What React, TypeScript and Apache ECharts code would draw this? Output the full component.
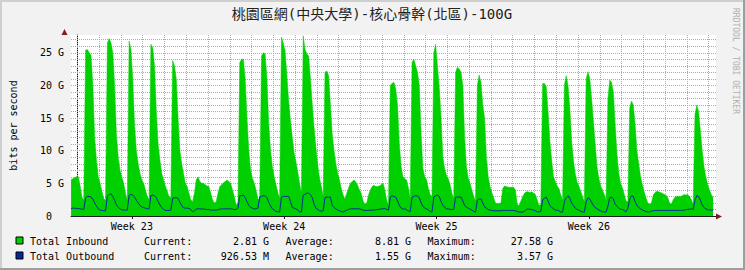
import { useEffect, useRef } from "react";
import * as echarts from "echarts";

const TITLE = "桃園區網(中央大學)-核心骨幹(北區)-100G";
const Y_TITLE = "bits per second";
const WATERMARK = "RRDTOOL / TOBI OETIKER";

// x axis in days; day grid lines sit on integers
const X_MIN = -0.2955;
const X_MAX = 29.341;
const Y_MAX = 27.72;

const WEEK_LABELS = ["Week 23", "Week 24", "Week 25", "Week 26"];
const WEEK_CENTERS = [2.5, 9.5, 16.5, 23.5];
const WEEK_LINES = [6, 13, 20, 27];
const DAY_LINES = [0, 1, 2, 3, 4, 5, 7, 8, 9, 10, 11, 12, 14, 15, 16, 17, 18, 19, 21, 22, 23, 24, 25, 26, 28, 29];
const Y_MAJOR = [5, 10, 15, 20, 25];
const Y_MINOR = [1, 2, 3, 4, 6, 7, 8, 9, 11, 12, 13, 14, 16, 17, 18, 19, 21, 22, 23, 24, 26, 27];
const Y_LABELS = [0, 5, 10, 15, 20, 25];

// samples every 2 hours (odd hours), first sample at day -1, 17:00
const SERIES_START = -1 + 17 / 24;
const SERIES_STEP = 2 / 24;

// Total Inbound, G bits/s
const INBOUND = [
  5.6, 5.7, 5.9, 6.0,
  6.0, 4.6, 2.9, 2.4, 25.4, 25.5, 25.0, 24.6, 20.0, 12.0, 8.5, 6.0,
  5.0, 3.8, 2.7, 2.3, 26.5, 27.2, 26.5, 25.0, 20.0, 12.5, 9.0, 7.0,
  6.0, 5.0, 3.5, 2.4, 26.8, 25.5, 21.0, 14.0, 10.0, 8.0, 6.5, 5.5,
  5.0, 4.0, 3.0, 2.5, 26.3, 25.8, 23.0, 16.0, 11.0, 8.5, 6.5, 5.5,
  4.6, 3.8, 3.0, 2.8, 23.8, 23.0, 21.0, 15.0, 10.0, 8.0, 6.5, 5.0,
  4.5, 3.5, 2.5, 2.2, 3.5, 5.5, 6.0, 5.3, 5.0, 5.0, 4.8, 4.6,
  4.5, 3.5, 2.5, 2.0, 2.2, 3.5, 4.5, 4.8, 5.1, 5.3, 5.5, 5.3,
  5.0, 4.0, 3.0, 1.7, 2.0, 23.5, 24.0, 24.0, 21.0, 15.0, 10.0, 7.0,
  5.8, 5.0, 4.0, 2.6, 2.5, 24.5, 25.0, 24.8, 21.0, 14.0, 10.0, 7.5,
  6.0, 4.8, 3.6, 2.6, 27.4, 26.5, 25.3, 21.5, 17.5, 14.5, 12.0, 9.6,
  8.3, 6.7, 5.0, 3.5, 27.6, 25.5, 24.8, 24.5, 21.0, 17.0, 13.5, 10.5,
  7.8, 5.8, 4.5, 3.0, 22.0, 22.2, 21.5, 17.0, 12.5, 10.0, 8.0, 6.5,
  5.5, 4.2, 3.2, 2.6, 3.5, 4.3, 5.0, 5.3, 5.5, 5.2, 4.7, 4.0,
  3.5, 2.3, 1.8, 2.0, 3.2, 4.0, 4.5, 4.7, 4.5, 4.5, 4.6, 4.8,
  5.0, 4.0, 2.5, 1.5, 20.0, 20.3, 20.5, 19.5, 17.0, 11.0, 7.5, 6.0,
  5.7, 5.5, 4.3, 2.7, 23.5, 24.0, 23.0, 22.0, 20.0, 12.5, 7.2, 6.0,
  5.6, 4.2, 3.3, 3.0, 25.0, 26.3, 23.0, 19.7, 15.0, 9.0, 7.2, 6.2,
  5.7, 4.8, 3.5, 2.6, 22.0, 22.8, 22.5, 22.0, 20.0, 12.0, 7.5, 5.8,
  5.0, 4.0, 3.0, 2.3, 20.0, 21.6, 20.5, 17.0, 15.0, 9.0, 6.0, 4.5,
  3.6, 2.8, 2.0, 1.9, 1.9, 2.0, 4.2, 4.6, 4.5, 4.4, 4.4, 4.4,
  4.4, 4.0, 1.8, 1.6, 2.3, 3.0, 3.5, 3.7, 3.7, 3.6, 3.7, 3.5,
  3.3, 2.5, 1.6, 1.8, 20.3, 20.3, 19.8, 16.0, 11.5, 8.5, 6.0, 5.3,
  4.6, 4.2, 3.2, 2.4, 20.0, 21.5, 20.0, 16.5, 11.5, 8.5, 6.5, 5.2,
  4.6, 3.8, 3.0, 2.2, 21.0, 22.1, 21.0, 18.0, 14.5, 11.0, 7.5, 5.8,
  4.6, 4.0, 3.3, 2.4, 18.0, 20.8, 20.5, 19.0, 14.0, 9.5, 6.5, 5.0,
  4.3, 3.3, 2.3, 2.2, 16.5, 17.6, 17.0, 14.0, 10.0, 8.0, 6.0, 4.8,
  3.7, 2.8, 2.0, 1.8, 2.0, 3.2, 3.6, 3.8, 3.7, 3.6, 3.5, 3.3,
  3.2, 2.8, 2.0, 1.8, 2.5, 2.9, 3.0, 3.0, 3.0, 3.1, 3.3, 3.2,
  3.3, 3.0, 2.5, 1.8, 15.5, 17.0, 16.0, 13.0, 10.0, 7.5, 6.0, 4.8,
  4.0, 3.3, 2.81,
];

// Total Outbound, G bits/s
const OUTBOUND = [
  1.15, 1.2, 1.2, 1.15,
  1.15, 1.1, 1.05, 1.0, 2.8, 3.0, 3.0, 2.9, 2.6, 2.0, 1.5, 1.1,
  0.9, 0.85, 0.8, 0.8, 3.0, 3.3, 3.4, 3.0, 2.4, 1.7, 1.35, 1.1,
  0.95, 0.9, 0.9, 0.9, 3.2, 3.3, 3.2, 2.9, 2.4, 2.0, 1.6, 1.4,
  1.3, 1.2, 1.1, 1.1, 3.1, 3.2, 3.1, 2.8, 2.2, 1.7, 1.3, 1.0,
  0.85, 0.85, 0.85, 0.9, 2.7, 2.8, 2.8, 2.7, 2.1, 1.6, 1.25, 1.2,
  1.2, 1.15, 1.0, 0.65, 0.8, 1.05, 1.1, 1.1, 1.05, 1.1, 1.0, 1.0,
  1.0, 0.9, 0.9, 0.9, 0.9, 0.95, 1.05, 1.1, 1.1, 1.1, 1.1, 1.1,
  1.1, 1.05, 1.0, 1.0, 1.2, 3.1, 3.1, 3.2, 2.8, 2.2, 1.6, 1.3,
  1.2, 1.1, 1.1, 1.2, 2.9, 3.0, 3.1, 3.1, 2.8, 2.1, 1.5, 1.1,
  0.9, 0.7, 0.65, 0.6, 2.9, 3.0, 3.0, 3.0, 3.0, 2.2, 1.3, 1.2,
  1.1, 0.9, 0.65, 0.6, 3.2, 3.3, 3.5, 3.5, 3.3, 2.8, 1.8, 1.2,
  1.0, 0.8, 0.75, 0.8, 2.8, 2.9, 2.9, 2.9, 1.6, 1.3, 1.1, 0.9,
  0.8, 0.7, 0.6, 0.75, 0.9, 1.0, 1.1, 1.1, 1.1, 1.1, 1.1, 1.1,
  1.0, 0.9, 0.85, 0.85, 0.85, 0.9, 0.9, 0.9, 0.95, 1.0, 1.0, 1.1,
  1.1, 1.15, 1.0, 0.9, 2.9, 3.1, 3.0, 2.9, 2.3, 1.6, 1.2, 1.05,
  1.1, 0.95, 0.75, 0.7, 2.9, 3.0, 3.1, 3.05, 2.8, 2.0, 1.5, 1.2,
  1.1, 0.9, 0.7, 0.6, 2.9, 3.1, 3.2, 3.0, 2.2, 1.6, 1.3, 1.1,
  1.1, 1.0, 1.0, 1.0, 2.9, 2.9, 2.9, 2.9, 2.3, 1.6, 1.35, 1.2,
  1.05, 0.9, 0.7, 0.6, 2.4, 2.6, 2.6, 2.0, 1.4, 1.2, 1.0, 0.9,
  0.85, 0.8, 0.8, 0.8, 0.8, 0.8, 0.85, 0.85, 0.85, 0.85, 0.85, 0.85,
  0.85, 0.8, 0.7, 0.6, 0.6, 0.6, 0.75, 1.0, 1.1, 1.0, 1.0, 0.9,
  0.8, 0.65, 0.6, 0.7, 2.5, 2.7, 2.9, 2.3, 1.6, 1.3, 1.1, 0.9,
  0.9, 0.8, 0.6, 0.6, 2.2, 2.8, 3.1, 2.7, 2.0, 1.6, 1.2, 1.0,
  0.9, 0.75, 0.6, 0.6, 2.2, 2.8, 2.6, 2.1, 1.6, 1.3, 1.1, 0.9,
  0.8, 0.65, 0.6, 0.6, 1.5, 2.8, 2.9, 2.6, 1.8, 1.5, 1.2, 1.05,
  1.0, 0.85, 0.65, 1.2, 2.6, 3.1, 3.0, 2.2, 1.6, 1.3, 1.1, 0.9,
  0.8, 0.7, 0.6, 0.65, 0.75, 0.8, 0.85, 0.85, 0.85, 0.85, 0.85, 0.85,
  0.85, 0.85, 0.85, 0.85, 0.85, 0.85, 0.85, 0.85, 0.85, 0.85, 0.9, 1.0,
  1.0, 1.05, 1.1, 1.0, 2.4, 3.1, 3.0, 2.4, 1.7, 1.3, 1.1, 0.95,
  0.9, 0.9, 0.93,
];

const LEGEND_NAMES = ["Total Inbound", "Total Outbound"];
const LEGEND_COLORS = ["#00CF00", "#002A97"];
const STAT_LABELS = ["Current:", "Average:", "Maximum:"];
const INBOUND_STATS = ["2.81 G", "8.81 G", "27.58 G"];
const OUTBOUND_STATS = ["926.53 M", "1.55 G", "3.57 G"];

const MONO = "'DejaVu Sans Mono', monospace";

function toPoints(values: number[]) {
  return values.map((v, i) => [SERIES_START + i * SERIES_STEP, v]);
}

export default function App() {
  const ref = useRef<HTMLDivElement>(null);

  useEffect(() => {
    if (!ref.current) return;
    const chart = echarts.init(ref.current, undefined, { renderer: "svg" });

    const gridColor = "#ABABAB";
    const majorColor = "#EB9595";
    const markData: any[] = [];
    DAY_LINES.forEach((d) => markData.push({ xAxis: d, lineStyle: { color: gridColor } }));
    Y_MINOR.forEach((v) => markData.push({ yAxis: v, lineStyle: { color: gridColor } }));
    WEEK_LINES.forEach((d) => markData.push({ xAxis: d, lineStyle: { color: majorColor } }));
    Y_MAJOR.forEach((v) => markData.push({ yAxis: v, lineStyle: { color: majorColor } }));

    const statX = [
      [144, 269],
      [285.5, 411],
      [427.5, 553],
    ];
    const rowsY = [241, 256];
    const legendGraphics: any[] = [];
    [INBOUND_STATS, OUTBOUND_STATS].forEach((stats, r) => {
      const y = rowsY[r];
      legendGraphics.push({
        type: "rect",
        shape: { x: 16, y: y - 4, width: 7, height: 7 },
        style: { fill: LEGEND_COLORS[r], stroke: "#000", lineWidth: 1 },
        silent: true,
      });
      legendGraphics.push({
        type: "text",
        x: 30,
        y,
        style: { text: LEGEND_NAMES[r], font: `10px ${MONO}`, fill: "#000", verticalAlign: "middle", align: "left" },
        silent: true,
      });
      stats.forEach((s, i) => {
        legendGraphics.push({
          type: "text",
          x: statX[i][0],
          y,
          style: { text: STAT_LABELS[i], font: `10px ${MONO}`, fill: "#000", verticalAlign: "middle", align: "left" },
          silent: true,
        });
        legendGraphics.push({
          type: "text",
          x: statX[i][1],
          y,
          style: { text: s, font: `10px ${MONO}`, fill: "#000", verticalAlign: "middle", align: "right" },
          silent: true,
        });
      });
    });

    chart.setOption({
      animation: false,
      backgroundColor: "#F2F2F2",
      grid: {
        left: 64,
        top: 35,
        width: 652,
        height: 181,
        show: true,
        backgroundColor: "#FFFFFF",
        borderWidth: 0,
      },
      xAxis: {
        type: "value",
        min: X_MIN,
        max: X_MAX,
        axisLine: { show: true, onZero: false, lineStyle: { color: "#1F1F1F", width: 1 } },
        axisTick: { show: true, customValues: WEEK_CENTERS, length: 3, lineStyle: { color: "#1F1F1F" } },
        axisLabel: {
          customValues: WEEK_CENTERS,
          formatter: (v: number) => WEEK_LABELS[WEEK_CENTERS.indexOf(v)] ?? "",
          fontFamily: MONO,
          fontSize: 10,
          color: "#000",
          margin: 5,
        },
        splitLine: { show: false },
      },
      yAxis: {
        type: "value",
        min: 0,
        max: Y_MAX,
        interval: 5,
        axisLine: { show: true, lineStyle: { color: "#1F1F1F", width: 1 } },
        axisTick: { show: false },
        axisLabel: {
          showMaxLabel: false,
          formatter: (v: number) => (Y_LABELS.includes(v) ? (v === 0 ? "{z|0}" : `${v} G`) : ""),
          fontFamily: MONO,
          fontSize: 10,
          color: "#000",
          margin: 7,
          rich: { z: { fontFamily: MONO, fontSize: 10, color: "#000", padding: [0, 12, 0, 0] } },
        },
        splitLine: { show: false },
        name: Y_TITLE,
        nameLocation: "middle",
        nameGap: 53,
        nameRotate: 90,
        nameTextStyle: { fontFamily: MONO, fontSize: 10, color: "#000" },
      },
      series: [
        {
          type: "line",
          name: "grid",
          data: [],
          z: 1,
          silent: true,
          markLine: {
            z: 1,
            silent: true,
            symbol: ["none", "none"],
            label: { show: false },
            emphasis: { disabled: true },
            lineStyle: { width: 1, type: [1, 1] },
            data: markData,
          },
        },
        {
          type: "line",
          name: LEGEND_NAMES[0],
          data: toPoints(INBOUND),
          symbol: "none",
          z: 2,
          silent: true,
          lineStyle: { color: LEGEND_COLORS[0], width: 0.5 },
          itemStyle: { color: LEGEND_COLORS[0] },
          areaStyle: { color: LEGEND_COLORS[0], opacity: 1 },
        },
        {
          type: "line",
          name: LEGEND_NAMES[1],
          data: toPoints(OUTBOUND),
          symbol: "none",
          z: 3,
          silent: true,
          lineStyle: { color: LEGEND_COLORS[1], width: 1 },
          itemStyle: { color: LEGEND_COLORS[1] },
        },
      ],
      graphic: [
        {
          type: "text",
          x: 372,
          y: 14,
          style: {
            text: TITLE,
            font: `14px 'DejaVu Sans Mono', 'Noto Sans CJK TC', sans-serif`,
            fill: "#222",
            align: "center",
            verticalAlign: "middle",
          },
          silent: true,
        },
        {
          type: "text",
          x: 735.5,
          y: 8,
          rotation: -Math.PI / 2,
          style: {
            text: WATERMARK,
            font: `8px ${MONO}`,
            fill: "#B0B0B0",
            align: "left",
            verticalAlign: "middle",
          },
          silent: true,
        },
        {
          type: "polygon",
          shape: { points: [[64.5, 29], [61.5, 35], [67.5, 35]] },
          style: { fill: "#801F1F" },
          silent: true,
        },
        {
          type: "polygon",
          shape: { points: [[722, 216.5], [716, 213.5], [716, 219.5]] },
          style: { fill: "#801F1F" },
          silent: true,
        },
        { type: "rect", shape: { x: 0, y: 0, width: 745, height: 2 }, style: { fill: "#CFCFCF" }, silent: true },
        { type: "rect", shape: { x: 0, y: 0, width: 2, height: 270 }, style: { fill: "#CFCFCF" }, silent: true },
        { type: "rect", shape: { x: 743, y: 0, width: 2, height: 270 }, style: { fill: "#9E9E9E" }, silent: true },
        { type: "rect", shape: { x: 0, y: 268, width: 745, height: 2 }, style: { fill: "#9E9E9E" }, silent: true },
        ...legendGraphics,
      ],
    });

    return () => chart.dispose();
  }, []);

  return (
    <div
      ref={ref}
      style={{ position: "fixed", left: 0, top: 0, width: 745, height: 270 }}
    />
  );
}
